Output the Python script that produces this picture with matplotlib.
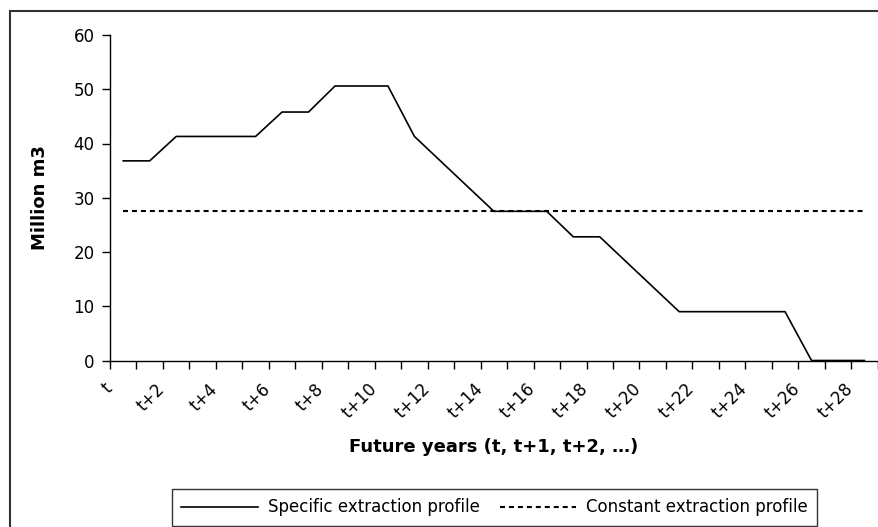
import numpy as np
import matplotlib
matplotlib.use("Agg")
import matplotlib.pyplot as plt
from matplotlib.patches import Rectangle
from matplotlib.transforms import ScaledTranslation

plt.rcParams['font.family'] = ['DejaVu Sans']

# ====================
# Datos del grafico
# ====================
years = ['t'] + [f't+{k}' for k in range(1, 29)]
specific = [36.8, 36.8, 41.3, 41.3, 41.3, 41.3, 45.8, 45.8, 50.6, 50.6,
            50.6, 41.3, 36.7, 32.1, 27.5, 27.5, 27.5, 22.8, 22.8, 18.2,
            13.6, 9.0, 9.0, 9.0, 9.0, 9.0, 0.0, 0.0, 0.0]
constant = [27.6] * len(years)

x = np.arange(len(years))
fs = 12

fig = plt.figure(figsize=(8.79, 5.27), dpi=100)
ax = fig.add_axes([110 / 879, 1 - 360.5 / 527, 767.7 / 879, 325.5 / 527])

ax.plot(x, specific, color='black', lw=1.2, label='Specific extraction profile')
ax.plot(x, constant, color='black', lw=1.5, dashes=(2.4, 1.9),
        label='Constant extraction profile')

ax.set_xlim(-0.5, len(years) - 0.5)
ax.set_ylim(0, 60)
ax.set_yticks(np.arange(0, 61, 10))

# etiquetas en el centro de cada categoria, marcas entre categorias
ax.set_xticks(x)
ax.set_xticklabels([y if i % 2 == 0 else '' for i, y in enumerate(years)],
                   rotation=45, ha='right', va='center', rotation_mode='anchor')
ax.set_xticks(np.arange(-0.5, len(years)), minor=True)
ax.tick_params(axis='x', which='major', length=0, pad=18.5, labelsize=fs)
ax.tick_params(axis='x', which='minor', length=6, width=1, direction='out')
ax.tick_params(axis='y', length=6, width=1, direction='out', pad=5, labelsize=fs)
offset = ScaledTranslation(-14 / 100, 0, fig.dpi_scale_trans)
for lab in ax.get_xticklabels():
    lab.set_transform(lab.get_transform() + offset)

for s in ['top', 'right']:
    ax.spines[s].set_visible(False)
for s in ['left', 'bottom']:
    ax.spines[s].set_linewidth(1)

ax.set_xlabel('Future years (t, t+1, t+2, …)', fontsize=13, fontweight='bold', va='center')
ax.xaxis.set_label_coords(0.5, -(446.5 - 360.5) / 325.5)
ax.set_ylabel('Million m3', fontsize=13, fontweight='bold', va='center')
ax.yaxis.set_label_coords(-(110 - 40) / 767.7, 0.5)

leg = fig.legend(loc='center', bbox_to_anchor=(494.5 / 879, 1 - 507.5 / 527), ncol=2,
                 fontsize=fs, frameon=True, fancybox=False, handlelength=4.6,
                 handletextpad=0.6, columnspacing=1.2, borderpad=0.55)
leg.get_frame().set_edgecolor('black')
leg.get_frame().set_linewidth(1)

# borde del area del grafico
fig.add_artist(Rectangle((9.5 / 879, -0.1), 1.1, 1.1 - 10.5 / 527, transform=fig.transFigure,
                         fill=False, edgecolor='#333333', lw=1.5))

fig.savefig('out.png', dpi=100)
